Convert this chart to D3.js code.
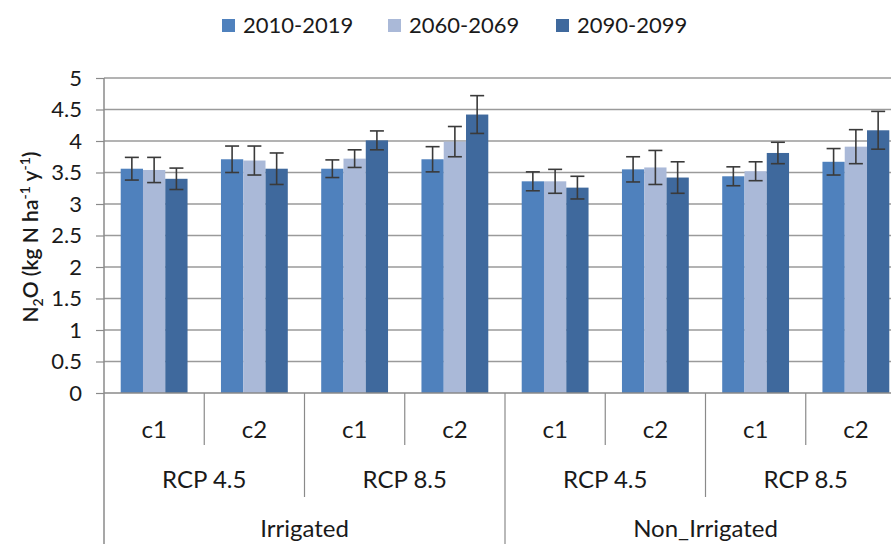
<!DOCTYPE html>
<html><head><meta charset="utf-8">
<script src="https://cdn.jsdelivr.net/npm/d3@7"></script>
<style>html,body{margin:0;padding:0;background:#fff;overflow:hidden}svg{display:block}text{font-family:Lato,"Open Sans",sans-serif;fill:#1a1a1a}</style>
</head><body><svg id="c" width="891" height="544"></svg>
<script>
// ---- data ----
const irrigation = ["Irrigated", "Non_Irrigated"];
const scenarios = ["RCP 4.5", "RCP 8.5"];
const classes = ["c1", "c2"];
const seriesNames = ["2010-2019", "2060-2069", "2090-2099"];
const v2010 = [3.56, 3.71, 3.56, 3.71, 3.36, 3.55, 3.44, 3.67];
const v2060 = [3.54, 3.69, 3.72, 3.99, 3.36, 3.58, 3.52, 3.91];
const v2090 = [3.40, 3.56, 4.01, 4.42, 3.26, 3.42, 3.81, 4.17];
const e2010 = [0.18, 0.21, 0.14, 0.20, 0.15, 0.20, 0.15, 0.21];
const e2060 = [0.20, 0.23, 0.14, 0.24, 0.19, 0.27, 0.15, 0.27];
const e2090 = [0.17, 0.25, 0.15, 0.30, 0.18, 0.25, 0.17, 0.30];
const yTicks = [0, 0.5, 1, 1.5, 2, 2.5, 3, 3.5, 4, 4.5, 5];
const colors = ["#4F81BD", "#AAB9D8", "#3F699D"];

// ---- build ----
const cats = [];
irrigation.forEach(ir => scenarios.forEach(sc => classes.forEach(cl => cats.push({ir, sc, cl}))));
const values = [v2010, v2060, v2090];
const errs = [e2010, e2060, e2090];

const svg = d3.select("#c");
const L = 104, R = 906, T = 78, B = 393;
const x = d3.scaleBand().domain(d3.range(cats.length)).range([L, R]).padding(0);
const bw = x.bandwidth();
const gap = bw * 1.5 / 4.5;
const x1 = d3.scaleBand().domain(d3.range(3)).range([gap / 2, bw - gap / 2]).padding(0);
const y = d3.scaleLinear().domain([0, 5]).range([B, T]);

// gridlines
svg.append("g").selectAll("line").data(yTicks.filter(t => t > 0)).join("line")
  .attr("x1", L).attr("x2", R).attr("y1", d => y(d)).attr("y2", d => y(d))
  .attr("stroke", "#9a9a9a").attr("stroke-width", 1.5);

// y axis
const yAxis = svg.append("g").attr("transform", `translate(${L},0)`)
  .call(d3.axisLeft(y).tickValues(yTicks).tickSize(8).tickPadding(14).tickFormat(d => String(d)));
yAxis.select(".domain").remove();
yAxis.selectAll(".tick line").attr("stroke", "#8a8a8a").attr("stroke-width", 1.2);
yAxis.selectAll(".tick text").attr("font-size", 22).attr("fill", "#1a1a1a").attr("font-family", "Lato, sans-serif");
svg.append("line").attr("x1", L).attr("x2", L).attr("y1", T).attr("y2", 544).attr("stroke", "#8a8a8a").attr("stroke-width", 1.5);

// bars
const gs = svg.append("g").selectAll("g").data(values).join("g").attr("fill", (d, i) => colors[i]);
gs.each(function (vals, si) {
  d3.select(this).selectAll("rect").data(vals).join("rect")
    .attr("x", (d, i) => x(i) + x1(si))
    .attr("width", x1.bandwidth())
    .attr("y", d => y(d))
    .attr("height", d => B - y(d));
});

// error bars
values.forEach((vals, si) => {
  const g = svg.append("g").attr("stroke", "#3a3a3a").attr("stroke-width", 1.6).attr("fill", "none");
  vals.forEach((v, i) => {
    const cx = x(i) + x1(si) + x1.bandwidth() / 2;
    const e = errs[si][i];
    g.append("line").attr("x1", cx).attr("x2", cx).attr("y1", y(v + e)).attr("y2", y(v - e));
    g.append("line").attr("x1", cx - 7).attr("x2", cx + 7).attr("y1", y(v + e)).attr("y2", y(v + e));
    g.append("line").attr("x1", cx - 7).attr("x2", cx + 7).attr("y1", y(v - e)).attr("y2", y(v - e));
  });
});

// x axis baseline
svg.append("line").attr("x1", L).attr("x2", R).attr("y1", B).attr("y2", B).attr("stroke", "#8a8a8a").attr("stroke-width", 1.5);

// hierarchical separators
const sepG = svg.append("g").attr("stroke", "#8a8a8a").attr("stroke-width", 1.2);
d3.range(1, cats.length + 1).forEach(k => {
  const xx = k === cats.length ? R : x(k);
  let bottom = 445;
  if (k % 2 === 0) bottom = 497;
  if (k % 4 === 0) bottom = 544;
  sepG.append("line").attr("x1", xx).attr("x2", xx).attr("y1", B).attr("y2", bottom);
});

// labels level 1
svg.append("g").selectAll("text").data(cats).join("text")
  .attr("x", (d, i) => x(i) + bw / 2).attr("y", 438).attr("text-anchor", "middle")
  .attr("font-size", 24).text(d => d.cl);
// level 2
const lvl2 = [];
irrigation.forEach((ir, a) => scenarios.forEach((sc, b) => lvl2.push({label: sc, idx: (a * scenarios.length + b) * classes.length})));
svg.append("g").selectAll("text").data(lvl2).join("text")
  .attr("x", d => x(d.idx) + bw).attr("y", 488).attr("text-anchor", "middle")
  .attr("font-size", 24).text(d => d.label);
// level 3
svg.append("g").selectAll("text").data(irrigation).join("text")
  .attr("x", (d, i) => x(i * 4) + bw * 2).attr("y", 537).attr("text-anchor", "middle")
  .attr("font-size", 24).text(d => d);

// y axis title
const yt = svg.append("text").attr("transform", "translate(38,237) rotate(-90)").attr("text-anchor", "middle")
  .attr("font-size", 21).attr("font-weight", 600);
yt.append("tspan").text("N");
yt.append("tspan").attr("font-size", 14).attr("dy", 5).text("2");
yt.append("tspan").attr("dy", -5).text("O (kg N ha");
yt.append("tspan").attr("font-size", 14).attr("dy", -8).text("-1");
yt.append("tspan").attr("dy", 8).text(" y");
yt.append("tspan").attr("font-size", 14).attr("dy", -8).text("-1");
yt.append("tspan").attr("dy", 8).text(")");

// legend
const legX = [222, 388, 556];
const leg = svg.append("g").selectAll("g").data(seriesNames).join("g")
  .attr("transform", (d, i) => `translate(${legX[i]},19)`);
leg.append("rect").attr("width", 13).attr("height", 13).attr("fill", (d, i) => colors[i]);
leg.append("text").attr("x", 21).attr("y", 14).attr("font-size", 22).text(d => d);
</script></body></html>
